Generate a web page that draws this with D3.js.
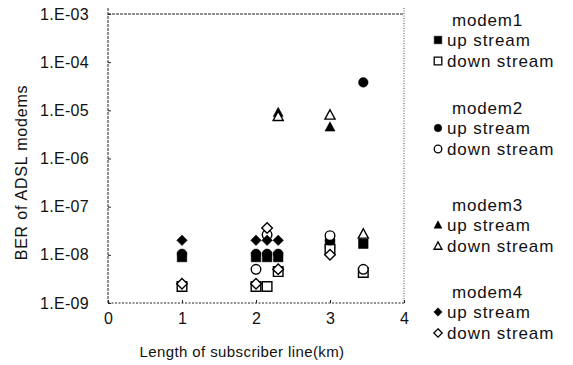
<!DOCTYPE html>
<html>
<head>
<meta charset="utf-8">
<script src="https://cdn.jsdelivr.net/npm/d3@7"></script>
<style>
  body { margin: 0; background: #fff; }
  svg text { font-family: "Liberation Sans", Arial, sans-serif; fill: #111; }
</style>
</head>
<body>
<script>
// tick labels
const xTicks = [0, 1, 2, 3, 4];
const yTicks = [1e-9, 1e-8, 1e-7, 1e-6, 1e-5, 1e-4, 1e-3];
const yTickLabels = ["1.E-09", "1.E-08", "1.E-07", "1.E-06", "1.E-05", "1.E-04", "1.E-03"];

// series: [length km, BER]
const modem1Up   = [[1, 9e-9], [2, 9e-9], [2.15, 9e-9], [2.3, 9e-9], [3, 1.7e-8], [3.45, 1.7e-8]];
const modem1Down = [[1, 2.2e-9], [2, 2.2e-9], [2.15, 2.2e-9], [2.3, 4.5e-9], [3, 1.3e-8], [3.45, 4.3e-9]];
const modem2Up   = [[1, 1.05e-8], [2, 1.05e-8], [2.15, 1.05e-8], [2.3, 1.05e-8], [3, 2e-8], [3.45, 3.8e-5]];
const modem2Down = [[2, 5e-9], [2.15, 2.6e-8], [3, 2.5e-8], [3.45, 5e-9]];
const modem3Up   = [[2.3, 9e-6], [3, 4.5e-6]];
const modem3Down = [[2.3, 7.5e-6], [3, 8e-6], [3.45, 2.7e-8]];
const modem4Up   = [[1, 2e-8], [2, 2e-8], [2.15, 2e-8], [2.3, 2e-8]];
const modem4Down = [[1, 2.5e-9], [2, 2.5e-9], [2.15, 3.6e-8], [2.3, 5e-9], [3, 1e-8]];

const modems = ["modem1", "modem2", "modem3", "modem4"];
const shapes = ["square", "circle", "triangle", "diamond"];
const series = [
  {modem: 0, filled: true,  data: modem1Up},
  {modem: 0, filled: false, data: modem1Down},
  {modem: 1, filled: true,  data: modem2Up},
  {modem: 1, filled: false, data: modem2Down},
  {modem: 2, filled: true,  data: modem3Up},
  {modem: 2, filled: false, data: modem3Down},
  {modem: 3, filled: true,  data: modem4Up},
  {modem: 3, filled: false, data: modem4Down}
];

const w = 573, h = 365;
const pLeft = 108, pRight = 404, pTop = 14, pBottom = 303;

const svg = d3.select("body").append("svg")
  .attr("width", w).attr("height", h);

const x = d3.scaleLinear().domain([0, 4]).range([pLeft, pRight]);
const y = d3.scaleLog().domain([1e-9, 1e-3]).range([pBottom, pTop]);

// marker path, r is the half size
function marker(shape, r) {
  if (shape == "square") return `M${-r},${-r}h${2*r}v${2*r}h${-2*r}Z`;
  if (shape == "circle") return `M${r},0A${r},${r} 0 1,1 ${-r},0A${r},${r} 0 1,1 ${r},0Z`;
  if (shape == "triangle") return `M0,${-r*1.1}L${r*1.05},${r*0.85}L${-r*1.05},${r*0.85}Z`;
  return `M0,${-r*1.1}L${r*1.1},0L0,${r*1.1}L${-r*1.1},0Z`;
}

// frame
const frame = svg.append("g").attr("fill", "none").attr("stroke", "#222");
frame.append("line").attr("x1", pLeft).attr("x2", pLeft).attr("y1", pTop - 6).attr("y2", pBottom)
  .attr("stroke-width", 1).attr("stroke-dasharray", "3,1");
frame.append("line").attr("x1", pRight).attr("x2", pRight).attr("y1", pTop - 6).attr("y2", pBottom)
  .attr("stroke-width", 0.8).attr("stroke-dasharray", "1,1.5");
frame.append("line").attr("x1", pLeft).attr("x2", pRight).attr("y1", pTop).attr("y2", pTop)
  .attr("stroke-width", 1).attr("stroke-dasharray", "3,1");
frame.append("line").attr("x1", pLeft).attr("x2", pRight).attr("y1", pBottom).attr("y2", pBottom)
  .attr("stroke-width", 1).attr("stroke-dasharray", "2,1.5");

// y axis
const yAxis = d3.axisLeft(y).tickValues(yTicks).tickSize(-3).tickPadding(19)
  .tickFormat((d, i) => yTickLabels[i]);
const gy = svg.append("g").attr("transform", `translate(${pLeft},0)`).call(yAxis);
gy.select(".domain").remove();
gy.selectAll("line").attr("stroke", "#222");
gy.selectAll("text").style("font-size", "16px").attr("letter-spacing", "0.3px").attr("fill", "#111");

// x axis
const xAxis = d3.axisBottom(x).tickValues(xTicks).tickSize(-3).tickPadding(10)
  .tickFormat(d3.format("d"));
const gx = svg.append("g").attr("transform", `translate(0,${pBottom})`).call(xAxis);
gx.select(".domain").remove();
gx.selectAll("line").attr("stroke", "#222");
gx.selectAll("text").style("font-size", "16px").attr("fill", "#111");

// axis titles
svg.append("text")
  .attr("transform", `translate(27,${(pTop + pBottom) / 2 + 14}) rotate(-90)`)
  .attr("text-anchor", "middle")
  .style("font-size", "16px").attr("letter-spacing", "0.8px")
  .text("BER of ADSL modems");
svg.append("text")
  .attr("x", 242).attr("y", 357)
  .attr("text-anchor", "middle")
  .style("font-size", "15px").attr("letter-spacing", "0.4px")
  .text("Length of subscriber line(km)");

// points
series.forEach(s => {
  svg.append("g").selectAll("path")
    .data(s.data)
    .enter()
    .append("path")
    .attr("transform", d => `translate(${x(d[0])},${y(d[1])})`)
    .attr("d", marker(shapes[s.modem], 4.8))
    .attr("fill", s.filled ? "#000" : "#fff")
    .attr("stroke", "#000")
    .attr("stroke-width", s.filled ? 0.5 : 1.4);
});

// legend
const legendTop = [20, 108, 205, 292];
modems.forEach((m, i) => {
  const g = svg.append("g");
  g.append("text").attr("x", 452).attr("y", legendTop[i] + 6)
    .style("font-size", "17px").attr("letter-spacing", "0.8px").text(m);
  ["up stream", "down stream"].forEach((lab, j) => {
    const ly = legendTop[i] + 20 + j * 21;
    g.append("path")
      .attr("transform", `translate(438,${ly})`)
      .attr("d", marker(shapes[i], 3.8))
      .attr("fill", j == 0 ? "#000" : "#fff")
      .attr("stroke", "#000")
      .attr("stroke-width", j == 0 ? 0.5 : 1.3);
    g.append("text").attr("x", 447).attr("y", ly + 6)
      .style("font-size", "17px").attr("letter-spacing", "0.9px").text(lab);
  });
});
</script>
</body>
</html>
